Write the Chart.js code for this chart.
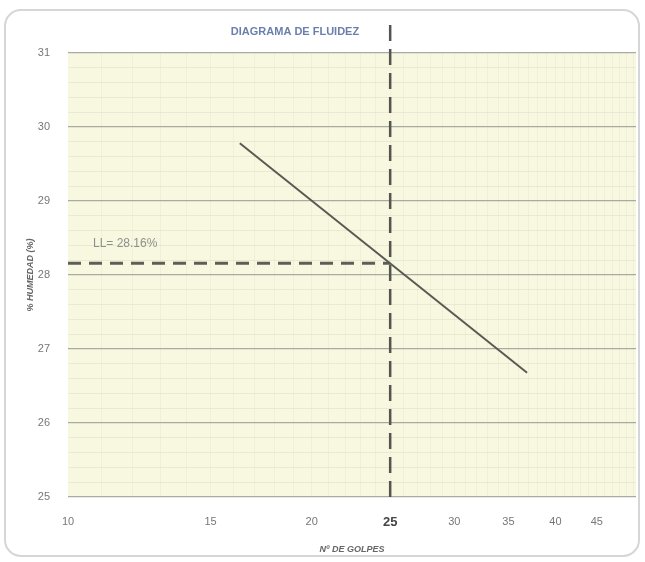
<!DOCTYPE html>
<html>
<head>
<meta charset="utf-8">
<script src="https://cdn.jsdelivr.net/npm/chart.js@4"></script>
<style>
  html, body { margin: 0; padding: 0; background: #ffffff; }
  #wrap { width: 645px; height: 562px; }
</style>
</head>
<body>
<div id="wrap"><canvas id="flowChart"></canvas></div>
<script>
// datos del ensayo
const golpes = [16.3, 36.9];
const humedad = [29.78, 26.68];
const llGolpes = 25;
const llHumedad = 28.16;
const xTickLabels = [10, 15, 20, 25, 30, 35, 40, 45];
const yRange = [25, 31];
const xRange = [10, 50.3];

const titulo = "DIAGRAMA DE FLUIDEZ";
const etiquetaLL = "LL= 28.16%";

const FONT = "'Liberation Sans', Arial, sans-serif";

const decorPlugin = {
  id: "decor",
  beforeDraw(chart) {
    const ctx = chart.ctx;
    const a = chart.chartArea;
    ctx.save();
    // marco redondeado
    ctx.strokeStyle = "#d6d6d6";
    ctx.lineWidth = 2;
    ctx.beginPath();
    ctx.roundRect(5, 10, 634, 546, 16);
    ctx.stroke();
    // fondo del grafico
    ctx.fillStyle = "#f8f8e0";
    ctx.fillRect(a.left, a.top, a.right - a.left, a.bottom - a.top);
    ctx.restore();
  },
  afterDraw(chart) {
    const ctx = chart.ctx;
    const xs = chart.scales.x;
    const ys = chart.scales.y;
    ctx.save();
    ctx.font = "bold 11px " + FONT;
    ctx.fillStyle = "#6b7fae";
    ctx.textAlign = "center";
    ctx.textBaseline = "middle";
    ctx.fillText(titulo, 295, 32);
    ctx.font = "12px " + FONT;
    ctx.fillStyle = "#8b918c";
    ctx.textAlign = "left";
    ctx.fillText(etiquetaLL, xs.getPixelForValue(xRange[0]) + 25, ys.getPixelForValue(llHumedad) - 19);
    ctx.restore();
  }
};

const isInt = v => Math.abs(v - Math.round(v)) < 1e-6;

new Chart(document.getElementById("flowChart"), {
  type: "scatter",
  data: {
    datasets: [
      {
        label: "Curva de fluidez",
        data: golpes.map((g, i) => ({ x: g, y: humedad[i] })),
        showLine: true,
        borderColor: "#5a5a55",
        borderWidth: 2,
        pointRadius: 0
      },
      {
        label: "LL horizontal",
        data: [{ x: xRange[0], y: llHumedad }, { x: llGolpes, y: llHumedad }],
        showLine: true,
        borderColor: "#5e5e58",
        borderWidth: 3,
        borderDash: [13, 8],
        pointRadius: 0
      },
      {
        label: "25 golpes",
        data: [{ x: llGolpes, y: yRange[0] }, { x: llGolpes, y: yRange[1] + 0.4 }],
        showLine: true,
        borderColor: "#555550",
        borderWidth: 2.5,
        borderDash: [16, 8],
        pointRadius: 0,
        clip: false
      }
    ]
  },
  options: {
    responsive: true,
    maintainAspectRatio: false,
    animation: false,
    layout: { padding: { top: 53, right: 9, left: 0, bottom: 0 } },
    plugins: {
      legend: { display: false },
      title: { display: false },
      tooltip: { enabled: false }
    },
    scales: {
      x: {
        type: "logarithmic",
        min: xRange[0],
        max: xRange[1],
        afterBuildTicks(scale) {
          const t = [];
          for (let v = xRange[0]; v <= 50; v++) t.push({ value: v });
          scale.ticks = t;
        },
        afterFit(scale) {
          scale.height = 65;
          scale.paddingLeft = 0;
          scale.paddingRight = 0;
        },
        border: { display: false },
        grid: {
          drawTicks: false,
          color: ctx => ctx.tick && ctx.tick.value === xRange[0] ? "rgba(0,0,0,0)" : "rgba(215,215,190,0.22)",
          lineWidth: 1
        },
        ticks: {
          autoSkip: false,
          maxRotation: 0,
          padding: 18,
          callback: v => xTickLabels.includes(v) ? String(v) : "",
          color: ctx => ctx.tick && ctx.tick.value === llGolpes ? "#444" : "#777",
          font: ctx => ctx.tick && ctx.tick.value === llGolpes
            ? { family: FONT, size: 13, weight: "bold" }
            : { family: FONT, size: 11 }
        },
        title: {
          display: true,
          text: "Nº DE GOLPES",
          color: "#666",
          font: { family: FONT, size: 9, weight: "bold", style: "italic" },
          padding: { top: 0, bottom: 7 }
        }
      },
      y: {
        min: yRange[0],
        max: yRange[1],
        afterFit(scale) {
          scale.width = 68;
          scale.paddingTop = 0;
          scale.paddingBottom = 0;
        },
        border: { display: false },
        ticks: {
          stepSize: 0.2,
          autoSkip: false,
          padding: 18,
          callback: v => isInt(v) ? String(Math.round(v)) : "",
          color: "#777",
          font: { family: FONT, size: 11 }
        },
        grid: {
          drawTicks: false,
          color: ctx => ctx.tick && isInt(ctx.tick.value) ? "#a9aaa2" : "rgba(210,210,185,0.35)",
          lineWidth: ctx => ctx.tick && isInt(ctx.tick.value) ? 1.2 : 1
        },
        title: {
          display: true,
          text: "% HUMEDAD (%)",
          color: "#666",
          font: { family: FONT, size: 9, weight: "bold", style: "italic" },
          padding: { top: 25, bottom: 0 }
        }
      }
    }
  },
  plugins: [decorPlugin]
});
</script>
</body>
</html>
